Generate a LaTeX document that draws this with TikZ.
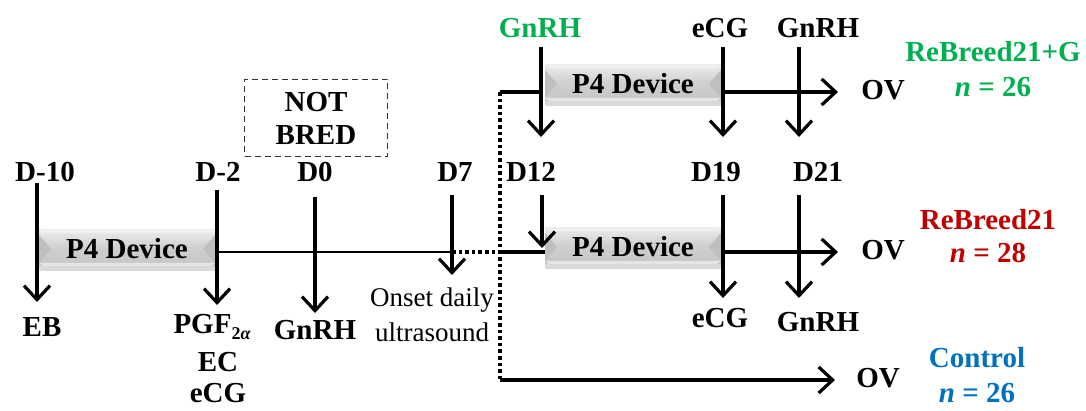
\documentclass[tikz,border=0pt]{standalone}
\usepackage{fontspec}
\setmainfont{Liberation Serif}
\usetikzlibrary{arrows.meta}
\definecolor{grn}{RGB}{0,176,80}
\definecolor{rd}{RGB}{192,0,0}
\definecolor{bl}{RGB}{0,112,192}
\tikzset{
  lbl/.style={font=\fontsize{29}{31}\selectfont\bfseries, inner sep=0pt},
  plain/.style={font=\fontsize{27}{29}\selectfont, inner sep=0pt},
  arr/.style={line width=3.2pt, -{Straight Barb[length=14pt,width=26pt,line width=3.2pt]}},
  thickline/.style={line width=3.2pt},
  thinline/.style={line width=1.3pt},
  dotline/.style={line width=3.6pt, dash pattern=on 3.6pt off 3pt},
  device/.pic={
    \fill[gray!30, rounded corners=2pt] (-88,-15) rectangle (89,22);
    \shade[top color=gray!15, bottom color=gray!45, middle color=gray!38] (-88,-19) rectangle (88,17);
    \fill[gray!12] (-88,-19) -- (88,-19) -- (84,-16) -- (-84,-16) -- cycle;
    \fill[gray!50] (-88,-14) -- (-76,0) -- (-88,14) -- cycle;
    \fill[gray!50] (88,-14) -- (76,0) -- (88,14) -- cycle;
    \fill[gray!20] (-88,14) -- (-84,17) -- (84,17) -- (88,14) -- cycle;
    \node[lbl] (-txt) at (0,0) {P4 Device};
  }
}
\begin{document}
\begin{tikzpicture}[x=1pt,y=-1pt]
\useasboundingbox (0,0) rectangle (1086,411);
% device bars
\pic (dev1) at (127,249) {device};
\pic (dev2) at (633,84) {device};
\pic (dev3) at (633,247) {device};
% NOT BRED box
\node[lbl, draw=black!80, dash pattern=on 6pt off 4pt, line width=1.3pt, align=center, minimum width=143pt, minimum height=77pt, font=\fontsize{29}{33}\selectfont\bfseries] (nb) at (316,118) {NOT\\BRED};
% day labels
\node[lbl] (d10) at (45,172) {D-10};
\node[lbl] (dm2) at (218,172) {D-2};
\node[lbl] (d0) at (315,172) {D0};
\node[lbl] (d7) at (455,172) {D7};
\node[lbl] (d12) at (531,172) {D12};
\node[lbl] (d19) at (716,172) {D19};
\node[lbl] (d21) at (818,172) {D21};
% treatment labels
\node[lbl] (eb) at (42,327) {EB};
\node[lbl] (pgf) at (212,327) {PGF\raisebox{-6pt}{\fontsize{18}{18}\selectfont 2\itshape α}};
\node[lbl] (ec) at (218,362) {EC};
\node[lbl] (ecg1) at (218,393) {eCG};
\node[lbl] (gnrh0) at (315,330) {GnRH};
\node[plain] (onset) at (432,300) {Onset daily};
\node[plain] (ultra) at (432,332) {ultrasound};
\node[lbl, text=grn] (gnrhG) at (540,28) {GnRH};
\node[lbl] (ecgT) at (720,28) {eCG};
\node[lbl] (gnrhT) at (818,28) {GnRH};
\node[lbl] (ecgM) at (720,318) {eCG};
\node[lbl] (gnrhM) at (818,322) {GnRH};
\node[lbl] (ov1) at (883,90) {OV};
\node[lbl] (ov2) at (883,250) {OV};
\node[lbl] (ov3) at (878,378) {OV};
\node[lbl, text=grn] (grpG) at (993,52) {ReBreed21+G};
\node[lbl, text=grn] (nG) at (993,87) {\textit{n} = 26};
\node[lbl, text=rd] (grpR) at (988,220) {ReBreed21};
\node[lbl, text=rd] (nR) at (988,253) {\textit{n} = 28};
\node[lbl, text=bl] (ctl) at (977,358) {Control};
\node[lbl, text=bl] (nC) at (977,393) {\textit{n} = 26};
% coordinates
\coordinate (a1s) at (37,183); \coordinate (a1e) at (37,302);
\coordinate (a2s) at (217,190); \coordinate (a2e) at (217,305);
\coordinate (a3s) at (315,197); \coordinate (a3e) at (315,313);
\coordinate (a4s) at (452,195); \coordinate (a4e) at (452,275);
\coordinate (t1s) at (541,47); \coordinate (t1e) at (541,137);
\coordinate (t2s) at (723,47); \coordinate (t2e) at (723,137);
\coordinate (t3s) at (799,47); \coordinate (t3e) at (799,137);
\coordinate (m1s) at (542,195); \coordinate (m1e) at (542,248);
\coordinate (m2s) at (723,195); \coordinate (m2e) at (723,298);
\coordinate (m3s) at (799,195); \coordinate (m3e) at (799,298);
\coordinate (mid0) at (217,252); \coordinate (mid1) at (452,252);
\coordinate (mid2) at (500,252); \coordinate (mid3) at (545,252);
\coordinate (mid4) at (722,252); \coordinate (mid5) at (838,252);
\coordinate (top0) at (500,92); \coordinate (top1) at (543,92);
\coordinate (top2) at (722,92); \coordinate (top3) at (838,92);
\coordinate (bot0) at (500,380); \coordinate (bot1) at (835,380);
% horizontal lines
\draw[thinline] (mid0) -- (mid1);
\draw[dotline] (mid1) -- (mid2);
\draw[thickline] (mid2) -- (mid3);
\draw[arr] (mid4) -- (mid5);
\draw[thickline] (top0) -- (top1);
\draw[arr] (top2) -- (top3);
\draw[dotline] (top0) -- (bot0);
\draw[arr] (bot0) -- (bot1);
% vertical arrows
\foreach \s/\e in {a1s/a1e,a2s/a2e,a3s/a3e,a4s/a4e,t1s/t1e,t2s/t2e,t3s/t3e,m1s/m1e,m2s/m2e,m3s/m3e}
  \draw[arr] (\s) -- (\e);
\end{tikzpicture}
\end{document}
